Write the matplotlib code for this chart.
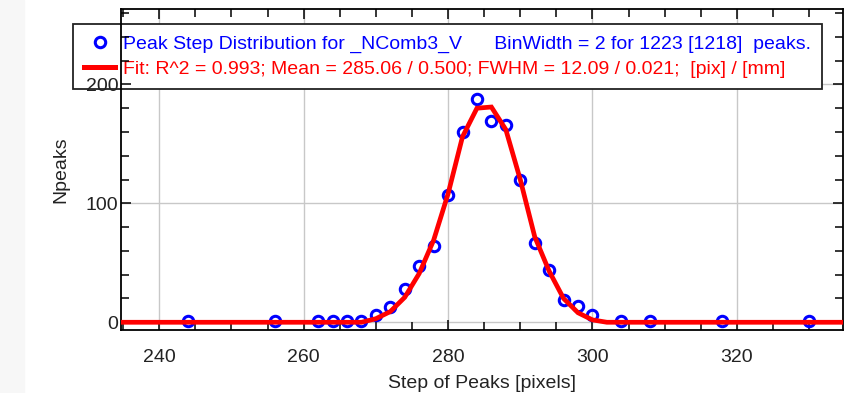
import matplotlib
matplotlib.use("Agg")
import matplotlib.pyplot as plt
from matplotlib.lines import Line2D
from matplotlib.patches import Rectangle
from matplotlib.ticker import MultipleLocator

plt.rcParams['font.family'] = ['Liberation Sans', 'DejaVu Sans']

# histogram of peak steps (bin width 2)
step_x = [244, 256, 262, 264, 266, 268, 270, 272, 274, 276, 278, 280, 282,
          284, 286, 288, 290, 292, 294, 296, 298, 300, 304, 308, 318, 330]
npeaks = [1, 1, 1, 1, 1, 1, 6, 13, 28, 47, 64, 107, 160,
          188, 169, 166, 120, 67, 44, 19, 14, 6, 1, 1, 1, 1]

# gaussian fit, read at bin centres
fit_x = [234, 268, 270, 272, 274, 276, 278, 280, 282, 284, 286, 288,
         290, 292, 294, 296, 298, 300, 302, 336]
fit_y = [0, 0, 3, 9, 21, 41, 69, 108, 156, 180, 181, 162,
         120, 72, 43, 20, 8, 2, 0, 0]

label_data = "Peak Step Distribution for _NComb3_V      BinWidth = 2 for 1223 [1218]  peaks."
label_fit = "Fit: R^2 = 0.993; Mean = 285.06 / 0.500; FWHM = 12.09 / 0.021;  [pix] / [mm]"

W, H = 852, 393
fig = plt.figure(figsize=(W / 100, H / 100), dpi=100)
fig.patches.append(Rectangle((0, 0), 24 / W, 1, transform=fig.transFigure,
                             color='#f7f7f7', zorder=-1))

ax = fig.add_axes([121 / W, 1 - 330 / H, (843 - 121) / W, (330 - 9.5) / H])

ax.plot(fit_x, fit_y, color='#ff0000', lw=3.4, zorder=3, solid_joinstyle='miter')
ax.plot(step_x, npeaks, 'o', ms=7.5, mfc='none', mec='#0000ff', mew=2.2, zorder=2)

ax.set_xlim(234.7, 334.7)
ax.set_ylim(-6.5, 263)
ax.xaxis.set_major_locator(MultipleLocator(20))
ax.xaxis.set_minor_locator(MultipleLocator(5))
ax.yaxis.set_major_locator(MultipleLocator(100))
ax.yaxis.set_minor_locator(MultipleLocator(20))
ax.set_axisbelow(True)
ax.xaxis.grid(True, which='major', color='#c8c8c8', lw=1.0)
# y grid drawn separately so the y tick labels can sit above the legend box
for yv in ax.get_yticks():
    ax.axhline(yv, color='#c8c8c8', lw=1.0, zorder=0.4)
ax.yaxis.set_zorder(2.6)

ax.tick_params(which='both', direction='in', top=True, right=True,
               colors='black', labelcolor='#222222', labelsize=14)
ax.tick_params(which='major', length=7, width=1.1)
ax.tick_params(which='minor', length=6, width=1.1)
ax.tick_params(axis='x', which='major', pad=14)
ax.tick_params(axis='y', which='major', pad=2)
for s in ax.spines.values():
    s.set_linewidth(1.3)

ax.set_xlabel('Step of Peaks [pixels]', fontsize=14, color='#222222', labelpad=6)
ax.set_ylabel('Npeaks', fontsize=14, color='#222222', labelpad=12)

handles = [Line2D([], [], ls='none', marker='o', ms=7.5, mfc='none',
                  mec='#0000ff', mew=2.2),
           Line2D([], [], color='#ff0000', lw=3.6)]
leg = ax.legend(handles, [label_data, label_fit], loc='upper left',
                bbox_to_anchor=(73 / W, 1 - 24 / H), bbox_transform=fig.transFigure,
                fontsize=14, frameon=True, fancybox=False, framealpha=1,
                edgecolor='#222222', borderpad=0.58, labelspacing=0.38,
                handlelength=1.6, handletextpad=0.4, borderaxespad=0)
leg.set_zorder(1)
leg.get_frame().set_linewidth(1.3)
leg.get_texts()[0].set_color('#0000ff')
leg.get_texts()[1].set_color('#ff0000')

fig.savefig('out.png', dpi=100)
